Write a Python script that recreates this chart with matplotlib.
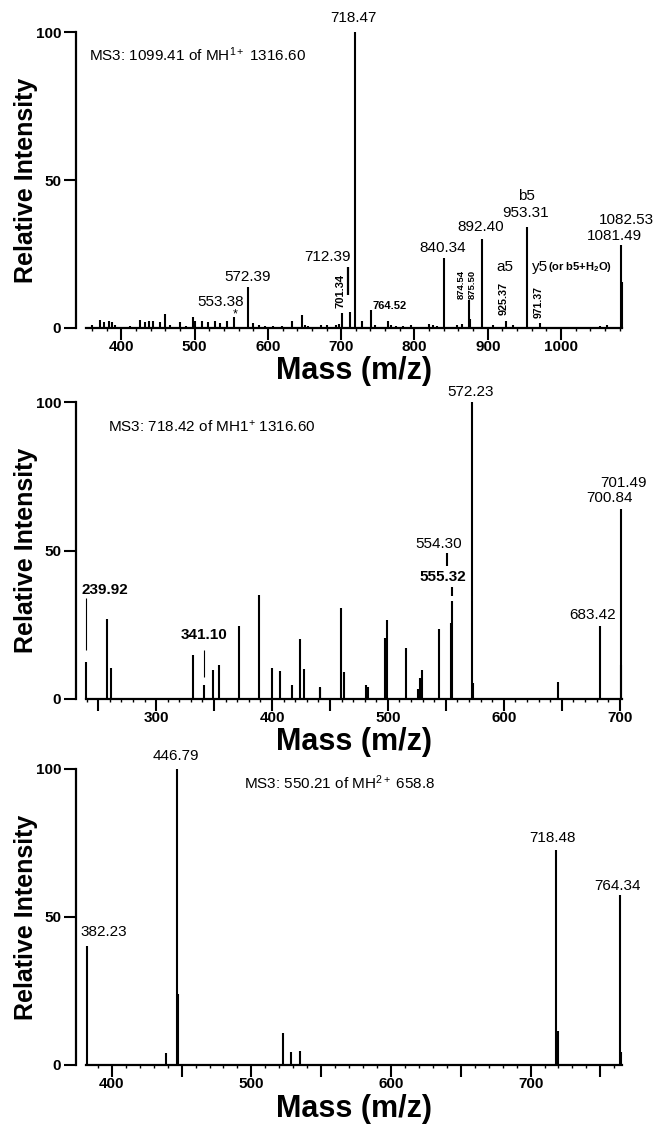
import matplotlib
matplotlib.use('Agg')
import matplotlib.pyplot as plt
import matplotlib.transforms as mtransforms
import numpy as np

plt.rcParams['font.family'] = ['Liberation Sans', 'DejaVu Sans']
plt.rcParams['mathtext.fontset'] = 'custom'
plt.rcParams['mathtext.rm'] = 'Liberation Sans'
plt.rcParams['mathtext.it'] = 'Liberation Sans:italic'
plt.rcParams['mathtext.bf'] = 'Liberation Sans:bold'

# ---------------- data ----------------
# Panel 1: MS3 of 1099.41
top_mz = [360.0, 371.4, 375.9, 382.7, 387.3, 391.8, 412.3, 425.0, 432.7, 437.3,
          443.2, 453.2, 460.0, 466.8, 480.5, 488.6, 498.6, 500.9, 510.0, 519.0,
          528.2, 535.0, 544.1, 553.38, 572.39, 580.4, 587.3, 596.4, 607.7, 619.0,
          633.0, 646.4, 651.0, 654.6, 672.7, 680.5, 693.2, 696.4, 701.34, 712.39,
          718.47, 728.2, 740.9, 745.5, 764.52, 768.2, 774.6, 784.1, 795.0, 820.4,
          825.0, 830.4, 840.34, 857.8, 864.6, 874.54, 875.50, 892.40, 907.7, 925.37,
          934.0, 953.31, 971.37, 1053.0, 1062.0, 1081.49, 1082.53]
top_int = [1.1, 2.8, 1.9, 2.3, 1.9, 1.1, 0.8, 2.8, 1.9, 2.3,
           2.5, 1.9, 4.7, 1.1, 1.9, 0.6, 3.8, 2.5, 2.3, 1.9,
           2.3, 1.6, 2.3, 3.6, 14.0, 1.6, 1.1, 0.6, 0.6, 0.8,
           2.5, 4.4, 1.0, 0.6, 1.0, 1.0, 1.0, 1.5, 5.0, 5.5,
           100.0, 2.5, 6.1, 1.0, 2.5, 1.0, 0.8, 0.7, 1.0, 1.5,
           1.0, 0.8, 23.5, 1.0, 1.5, 9.6, 3.0, 30.0, 1.0, 2.5,
           1.0, 34.2, 1.6, 0.8, 1.0, 28.0, 15.6]

# Panel 2: MS3 of 718.42
mid_mz = [239.92, 258.0, 260.9, 332.2, 341.10, 348.8, 354.3, 371.7, 388.8, 399.7,
          407.1, 416.9, 424.3, 427.2, 441.0, 441.8, 459.2, 462.1, 481.3, 482.7,
          497.9, 499.3, 515.9, 525.9, 527.3, 529.4, 544.5, 554.30, 555.32, 572.23,
          573.3, 646.6, 683.42, 700.84, 701.49]
mid_int = [12.3, 26.9, 10.6, 14.9, 4.7, 9.9, 11.4, 24.7, 35.0, 10.6,
           9.5, 4.7, 20.1, 10.0, 3.9, 3.6, 30.7, 9.0, 4.7, 4.2,
           20.5, 26.7, 17.2, 3.4, 7.0, 9.8, 23.6, 25.5, 33.1, 100.0,
           5.5, 5.8, 24.7, 64.0, 11.3]

# Panel 3: MS3 of 550.21
bot_mz = [382.23, 438.6, 446.79, 447.5, 522.6, 528.4, 534.5, 718.48, 719.3, 764.34, 765.0]
bot_int = [40.2, 4.2, 100.0, 23.9, 10.9, 4.5, 4.8, 72.6, 11.5, 57.4, 4.5]

top_xlim = (352, 1083)
mid_xlim = (239.5, 702)
bot_xlim = (381.5, 765.5)

top_ticks = [400, 500, 600, 700, 800, 900, 1000]
mid_ticks = [250, 300, 350, 400, 450, 500, 550, 600, 650, 700]
bot_ticks = [400, 450, 500, 550, 600, 650, 700, 750]

top_title = r"MS3: 1099.41 of MH$^{1+}$ 1316.60"
mid_title = r"MS3: 718.42 of MH1$^{+}$ 1316.60"
bot_title = r"MS3: 550.21 of MH$^{2+}$ 658.8"

# ---------------- figure ----------------
W, H = 655, 1124
fig = plt.figure(figsize=(W / 100, H / 100), dpi=100)

def rect(top_px, bottom_px):
    return [86 / W, (H - bottom_px) / H, 536 / W, (bottom_px - top_px) / H]

ax1 = fig.add_axes(rect(32, 328))
ax2 = fig.add_axes(rect(402, 699))
ax3 = fig.add_axes(rect(769, 1065))


def style(ax, xlim, ticks, label_every, minor_step, xlabel_off):
    ax.set_xlim(*xlim)
    ax.set_ylim(0, 100)
    for s in ('top', 'right'):
        ax.spines[s].set_visible(False)
    ax.spines['left'].set_position(('outward', 7.2))
    ax.spines['left'].set_bounds(0, 100)
    ax.spines['left'].set_linewidth(1.6)
    ax.spines['bottom'].set_linewidth(1.6)
    ax.set_yticks([0, 50, 100])
    ax.set_yticklabels(['0', '50', '100'], fontsize=11, fontweight='bold')
    ax.set_xticks(ticks)
    ax.set_xticklabels([str(t) if t % label_every == 0 else '' for t in ticks],
                       fontsize=11, fontweight='bold')
    ax.set_xticks(np.arange(np.ceil(xlim[0] / minor_step) * minor_step, xlim[1], minor_step),
                  minor=True)
    ax.tick_params(axis='both', which='major', length=8.6, width=1.5, pad=2, color='black')
    ax.tick_params(axis='x', which='major', pad=0)
    ax.tick_params(axis='x', which='minor', length=2.0, width=1.0)
    ax.set_xlabel('Mass (m/z)', fontsize=22, fontweight='bold')
    ax.xaxis.set_label_coords(0.5, -xlabel_off / 296)
    ax.set_ylabel('Relative Intensity', fontsize=18, fontweight='bold')
    ax.yaxis.label.set_va('center')
    ax.yaxis.set_label_coords(-60 / 536, 0.5)


def peaks(ax, mz, inten):
    ax.vlines(mz, 0, inten, colors='black', linewidth=1.5, clip_on=False)


def lab(ax, mz, inten, target, text, dx, dy, size=11, weight='normal', rot=0,
        ha='center', va='center'):
    i = mz.index(target)
    ax.annotate(text, xy=(mz[i], inten[i]), xytext=(dx, dy), textcoords='offset pixels',
                ha=ha, va=va, fontsize=size, fontweight=weight, rotation=rot,
                annotation_clip=False)


def lead(ax, mz, inten, target, dx, y0, y1, lw=1.0):
    i = mz.index(target)
    tr = mtransforms.ScaledTranslation(mz[i], inten[i], ax.transData)
    ax.plot([dx, dx], [y0, y1], color='black', lw=lw, transform=tr, clip_on=False,
            solid_capstyle='butt')


# ----- panel 1 -----
style(ax1, top_xlim, top_ticks, 100, 20, 28)
peaks(ax1, top_mz, top_int)
ax1.text(3 / 536, (328 - 55) / 296, top_title, transform=ax1.transAxes,
         fontsize=11, ha='left', va='center')
lab(ax1, top_mz, top_int, 718.47, '718.47', -1, 13.7)
lab(ax1, top_mz, top_int, 572.39, '572.39', 0, 10)
lab(ax1, top_mz, top_int, 553.38, '553.38', -13.5, 15.6)
lab(ax1, top_mz, top_int, 553.38, '*', 1.5, 3, size=9)
lab(ax1, top_mz, top_int, 712.39, '712.39', -22.3, 55)
lead(ax1, top_mz, top_int, 712.39, -1.8, 16.7, 44.7, lw=1.6)
lab(ax1, top_mz, top_int, 701.34, '701.34', -1.7, 22.5, size=8, weight='bold', rot=90)
lab(ax1, top_mz, top_int, 764.52, '764.52', 0.7, 15, size=8, weight='bold')
lab(ax1, top_mz, top_int, 840.34, '840.34', -1, 10)
lab(ax1, top_mz, top_int, 874.54, '874.54', -7.4, 15, size=6.8, weight='bold', rot=90)
lab(ax1, top_mz, top_int, 875.50, '875.50', 1.9, 35.1, size=6.8, weight='bold', rot=90)
lab(ax1, top_mz, top_int, 892.40, '892.40', -2, 12.5)
lab(ax1, top_mz, top_int, 953.31, '953.31', -1, 13.5)
lab(ax1, top_mz, top_int, 953.31, 'b5', 0, 30.8)
lab(ax1, top_mz, top_int, 925.37, '925.37', -2.3, 22.6, size=7.8, weight='bold', rot=90)
lab(ax1, top_mz, top_int, 925.37, 'a5', -1.3, 54)
lab(ax1, top_mz, top_int, 971.37, '971.37', -1.6, 21.6, size=7.5, weight='bold', rot=90)
lab(ax1, top_mz, top_int, 971.37, 'y5', -8.2, 56.6, ha='left')
lab(ax1, top_mz, top_int, 971.37, r'(or b5+H$_{\mathbf{2}}$O)', 8.1, 56.6, size=8,
    weight='bold', ha='left')
lab(ax1, top_mz, top_int, 1081.49, '1081.49', -6, 9.1)
lab(ax1, top_mz, top_int, 1082.53, '1082.53', 4.5, 61.8)

# ----- panel 2 -----
style(ax2, mid_xlim, mid_ticks, 100, 10, 28)
peaks(ax2, mid_mz, mid_int)
ax2.text((108 - 86) / 536, (699 - 427) / 297, mid_title, transform=ax2.transAxes,
         fontsize=11, ha='left', va='center')
lab(ax2, mid_mz, mid_int, 239.92, '239.92', 18.5, 72.5, weight='bold')
lead(ax2, mid_mz, mid_int, 239.92, 0, 12.5, 64.5, lw=0.8)
lab(ax2, mid_mz, mid_int, 341.10, '341.10', 0, 50, weight='bold')
lead(ax2, mid_mz, mid_int, 341.10, 0, 8, 35, lw=0.8)
lab(ax2, mid_mz, mid_int, 554.30, '554.30', -11.8, 79)
lead(ax2, mid_mz, mid_int, 554.30, -3.5, 57.3, 70.3, lw=1.5)
lab(ax2, mid_mz, mid_int, 555.32, '555.32', -9, 24, weight='bold')
lead(ax2, mid_mz, mid_int, 555.32, 0, 4.7, 13.7, lw=1.5)
lab(ax2, mid_mz, mid_int, 572.23, '572.23', -1.3, 10.3)
lab(ax2, mid_mz, mid_int, 683.42, '683.42', -7.5, 10.6)
lab(ax2, mid_mz, mid_int, 700.84, '700.84', -11.3, 10.6)
lab(ax2, mid_mz, mid_int, 701.49, '701.49', 2, 182.7)

# ----- panel 3 -----
style(ax3, bot_xlim, bot_ticks, 100, 10, 29)
peaks(ax3, bot_mz, bot_int)
ax3.text((244 - 86) / 536, (1065 - 783) / 296, bot_title, transform=ax3.transAxes,
         fontsize=11, ha='left', va='center')
lab(ax3, bot_mz, bot_int, 382.23, '382.23', 17, 14.3)
lab(ax3, bot_mz, bot_int, 446.79, '446.79', -1, 13.3)
lab(ax3, bot_mz, bot_int, 718.48, '718.48', -3.6, 11.7)
lab(ax3, bot_mz, bot_int, 764.34, '764.34', -2.8, 9.1)

fig.savefig('out.png', dpi=100, facecolor='white')
